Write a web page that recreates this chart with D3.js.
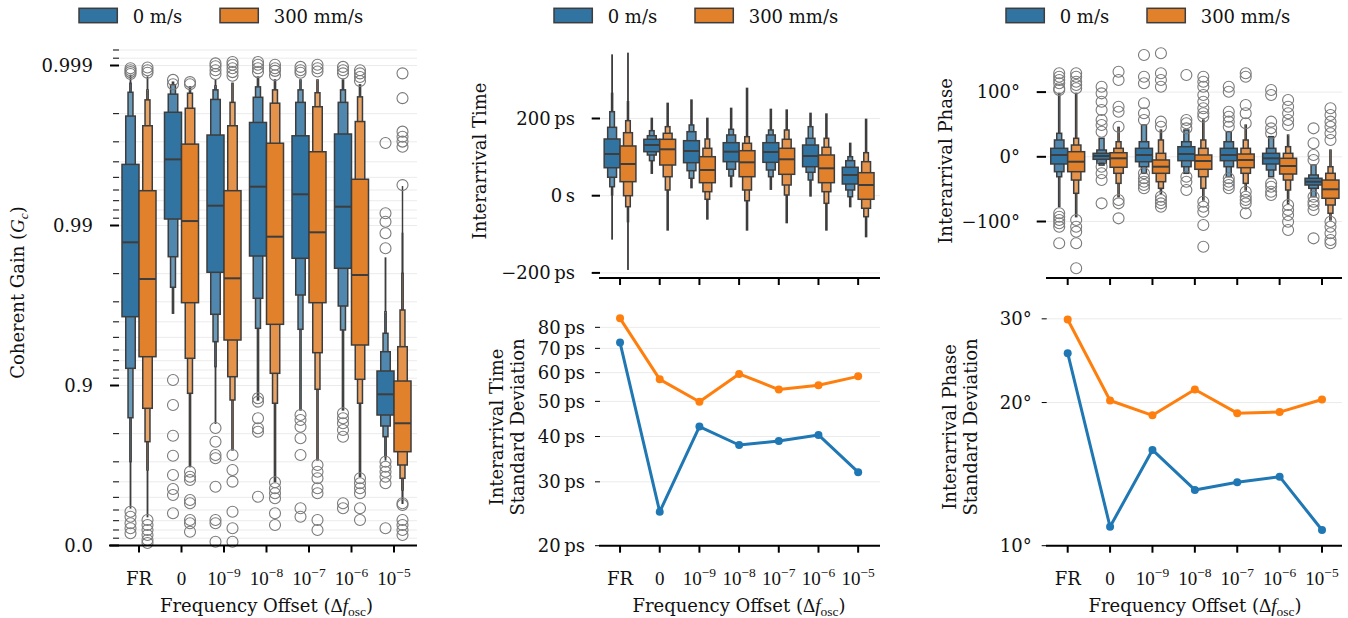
<!DOCTYPE html>
<html><head><meta charset="utf-8">
<script src="https://cdn.jsdelivr.net/npm/d3@7"></script>
<style>
body{margin:0;background:#fff}
svg text{font-family:"DejaVu Serif",serif;font-size:18px;fill:#111}
svg .math{font-family:"Liberation Serif",serif}
</style>
</head><body>
<svg id="c" width="1348" height="618"></svg>
<script>
// ---------------- DATA ----------------
const categories = ["FR","0","1e-9","1e-8","1e-7","1e-6","1e-5"];
const xTickBase = ["FR","0","10","10","10","10","10"];
const xTickExp  = ["","","\u22129","\u22128","\u22127","\u22126","\u22125"];
const series = ["0 m/s","300 mm/s"];

// Coherent gain letter-value boxes (levels from innermost outwards: [low, high])
const gainBoxes0 = [
 {median:.98726, levels:[[.96285,.99585],[.9219,.99793],[.8410,.99853],[.7006,.99871],[.4172,.99885]], outliers:[.99896,.99893,.99890,.99887,.3849,.3393,.2733,.2195,.1609]},
 {median:.99614, levels:[[.99089,.99804],[.98433,.99849],[.97567,.99868],[.96462,.99873]], outliers:[.99877,.99869,.90753,.8676,.7941,.7253,.6374,.5565,.5166,.3708]},
 {median:.99248, levels:[[.98039,.99728],[.96411,.99837],[.94677,.99858],[.92369,.99866],[.8278,.99877]], outliers:[.99903,.99899,.99893,.99887,.8157,.7755,.7281,.7149,.5710,.3072,.2733,.0532]},
 {median:.99428, levels:[[.98449,.99773],[.97149,.99842],[.95609,.99864],[.8768,.99882]], outliers:[.99905,.99901,.99896,.99890,.8798,.8738,.8397,.8149,.8056,.5045]},
 {median:.99362, levels:[[.98397,.99725],[.97281,.99830],[.95546,.99858],[.85775,.99877]], outliers:[.99898,.99893,.99889,.8471,.8357,.8191,.7862,.7281,.4145,.3393]},
 {median:.99237, levels:[[.98149,.99732],[.96815,.99830],[.95502,.99858],[.85775,.99877]], outliers:[.99898,.99893,.99888,.8508,.8397,.8278,.8103,.7911,.4553,.4145]},
 {median:.8865, levels:[[.8471,.91883],[.8209,.93849],[.7911,.95283],[.7214,.96542],[.7079,.98404]], outliers:[.99695,.99161,.99053,.98881,.98612,.7006,.6783,.6542,.6285,.5916,.2195]}
];
const gainBoxes300 = [
 {median:.97840, levels:[[.93393,.99394],[.86115,.99762],[.7755,.99836],[.6626,.99858],[.3393,.99882]], outliers:[.99897,.99893,.99889,.3066,.2553,.2002,.1400,.0761,.0353]},
 {median:.99062, levels:[[.96963,.99690],[.93239,.99815],[.8881,.99851],[.6783,.99864]], outliers:[.99873,.99869,.6542,.6285,.6104,.4804,.4553,.3072,.2733,.1802]},
 {median:.97862, levels:[[.94804,.99394],[.9119,.99762],[.8768,.99830],[.7471,.99871]], outliers:[.99905,.99901,.99896,.99890,.99884,.7281,.6626,.6010,.3849,.2195,.0532]},
 {median:.98825, levels:[[.95854,.99694],[.91609,.99828],[.8709,.99858],[.6010,.99877]], outliers:[.99901,.99896,.99892,.99885,.5980,.5609,.5283,.4930,.3708,.2553]},
 {median:.98897, levels:[[.96963,.99654],[.93763,.99819],[.8944,.99852],[.7079,.99877]], outliers:[.99901,.99896,.99891,.6861,.6542,.6198,.5609,.5283,.3072,.2000]},
 {median:.97961, levels:[[.94418,.99486],[.90853,.99776],[.8709,.99843],[.6285,.99868]], outliers:[.99893,.99888,.99882,.99875,.6198,.5916,.5609,.5283,.4145,.3072]},
 {median:.8278, levels:[[.7407,.90624],[.6861,.94278],[.6198,.96626],[.5502,.98011],[.4553,.98881],[.4553,.99428]], outliers:[.99888,.99840,.99741,.99721,.99701,.99678,.99441,.4553,.4418,.3072,.2553,.2000,.1400]}
];

// Interarrival time (ps)
const timeBoxes0 = [
 {median:108, levels:[[72.5,146.9],[47.7,177.2],[23.3,217.6],[1.8,265.3],[-112.2,364.5]], outliers:[]},
 {median:131.3, levels:[[114,146.1],[105.4,155.4],[90.7,168.4],[58,200.5]], outliers:[]},
 {median:115.8, levels:[[85.5,142.5],[64.8,165.8],[45.1,183.2],[20.7,247.9]], outliers:[]},
 {median:114, levels:[[88.1,137.3],[68.4,157.3],[51,172],[23.3,226.4]], outliers:[]},
 {median:113.2, levels:[[86.5,137.3],[66.6,157.3],[49.2,170.2],[16.6,223.8]], outliers:[]},
 {median:102.8, levels:[[75.1,131.3],[60.6,148.7],[40.7,178.8],[-0.8,213.5]], outliers:[]},
 {median:53.6, levels:[[30.3,73.6],[14.8,90.7],[-2.6,101],[-28.5,135.8]], outliers:[]}
];
const timeBoxes300 = [
 {median:82.1, levels:[[36.3,128.8],[0,163.2],[-28.5,194.3],[-67.4,243.5],[-190.7,368.9]], outliers:[]},
 {median:120.2, levels:[[79.5,146.1],[49.2,161.7],[14.8,178.8],[-88.9,239.4]], outliers:[]},
 {median:66.6, levels:[[33.7,101],[10.4,122.8],[-9.3,146.9],[-60.4,200.5]], outliers:[]},
 {median:86.5, levels:[[49.2,116.6],[14.8,135.8],[-13,152.8],[-88.9,278.2]], outliers:[]},
 {median:94.3, levels:[[55.4,122.8],[27.7,146.1],[1.8,170.2],[-69.9,222]], outliers:[]},
 {median:71, levels:[[33.7,105.4],[10.4,125.4],[-19.7,148.7],[-88.9,211.7]], outliers:[]},
 {median:27.7, levels:[[-9.3,59.6],[-32.6,88.1],[-54.4,111.4],[-106.2,197.9]], outliers:[]}
];

// Interarrival phase (degrees)
const phaseBoxes0 = [
 {median:2.8, levels:[[-11.1,13.1],[-23,26],[-30.8,36.3],[-77.1,98.1]], outliers:[129.1,123.8,118.7,113.6,105.9,103.2,-87.3,-92.6,-97.7,-102.8,-108,-133.7]},
 {median:1.2, levels:[[-3.9,5.4],[-10,10.5],[-12.8,28.6]], outliers:[108.3,98.1,85.2,72.3,56.9,49.1,38.8,-15.3,-25.5,-35.9,-71.9]},
 {median:2.8, levels:[[-7.6,13.1],[-15.3,23.3],[-25.5,49.1]], outliers:[157.3,123.8,113.6,82.7,67.2,56.9,-25.5,-33.2,-38.5,-43.6,-48.7]},
 {median:4.3, levels:[[-6,15.6],[-15.3,23.3],[-25.5,41.4]], outliers:[126.4,56.9,51.8,44,-30.8,-38.5,-51.3]},
 {median:2.8, levels:[[-6,13.1],[-15.3,23.3],[-30.8,38.8]], outliers:[108.3,100.6,69.7,62,54.3,46.5,-33.2,-38.5,-43.6,-48.7]},
 {median:-2.3, levels:[[-11.1,5.4],[-20.4,13.1],[-30.8,31.1]], outliers:[103.2,95.5,54.3,44,36.3,-41,-46.2,-53.9,-59]},
 {median:-38.5, levels:[[-43.6,-33.2],[-48.7,-28.1],[-61.7,-12.7]], outliers:[44,20.9,2.8,-4.9,-61.7,-69.4,-74.5,-82.2,-126]}
];
const phaseBoxes300 = [
 {median:-7.6, levels:[[-23,7.9],[-35.9,18.2],[-56.4,28.6],[-92.6,98.1]], outliers:[129.1,123.8,116.1,111,105.9,-97.7,-108,-115.8,-133.7,-172.3]},
 {median:-2.3, levels:[[-16.2,6.3],[-25.5,13.1],[-41,23.3],[-61.7,45.6]], outliers:[131.5,118.7,77.4,69.7,46.5,-66.8,-71.9,-95.1]},
 {median:-15.3, levels:[[-25.5,-4.9],[-38.5,5.4],[-48.7,26],[-56.4,41.4]], outliers:[160,129.1,118.7,108.3,54.3,46.5,-61.7,-66.8,-71.9,-77.1]},
 {median:-6.5, levels:[[-19.3,2.8],[-30.8,13.1],[-48.7,26],[-66.8,56.9]], outliers:[123.8,116.1,108.3,95.5,85.2,75,67.2,62,-69.4,-77.1,-84.9,-105.4,-139]},
 {median:-4.9, levels:[[-16.8,4.3],[-25.5,13.1],[-41,26],[-51.3,49.1]], outliers:[129.1,123.8,80.1,67.2,51.8,-53.9,-61.7,-66.8,-71.9,-87.3]},
 {median:-14.2, levels:[[-26.6,-2.3],[-35.9,5.4],[-51.3,15.6],[-71.9,33.7]], outliers:[87.8,77.4,67.2,56.9,49.1,-74.5,-82.2,-89.9,-100.3,-113.1]},
 {median:-50.2, levels:[[-64.1,-35.9],[-74.5,-25.5],[-87.3,-15.3],[-97.7,10.5]], outliers:[75,64.6,54.3,46.5,36.3,26,-100.3,-108,-118.2,-128.6,-133.7]}
];

// Standard deviations
const timeStd0   = [72.6, 24.8, 42.6, 37.9, 38.9, 40.4, 31.9];
const timeStd300 = [84.7, 57.5, 49.9, 59.5, 53.9, 55.4, 58.6];
const phaseStd0   = [25.4, 10.96, 15.9, 13.1, 13.6, 13.97, 10.79];
const phaseStd300 = [29.9, 20.2, 18.8, 21.3, 19.0, 19.1, 20.3];

// Tick values / labels
const gainTicks = [0, 0.9, 0.99, 0.999];
const gainTickLabels = ["0.0","0.9","0.99","0.999"];
const timeTicks = [-200, 0, 200];
const timeTickLabels = ["\u2212200\u2009ps","0\u2009s","200\u2009ps"];
const phaseTicks = [-100, 0, 100];
const phaseTickLabels = ["\u2212100\u00b0","0\u00b0","100\u00b0"];
const timeStdTicks = [20,30,40,50,60,70,80];
const timeStdTickLabels = ["20\u2009ps","30\u2009ps","40\u2009ps","50\u2009ps","60\u2009ps","70\u2009ps","80\u2009ps"];
const phaseStdTicks = [10,20,30];
const phaseStdTickLabels = ["10\u00b0","20\u00b0","30\u00b0"];

// ---------------- STYLE ----------------
const BOX_COLORS = ["#3274a1","#e1812c"];
const LINE_COLORS = ["#1f77b4","#ff7f0e"];
const EDGE = "#3d3d3d";
const GRID = "#ebebeb";
const LEVEL_W = [1, 0.56, 0.29, 0.08, 0.03, 0.01];

const svg = d3.select("#c");
const gGrid = svg.append("g");
const gMarks = svg.append("g");
const gAxes = svg.append("g");

// ---------------- HELPERS ----------------
function gridLines(vals, y, x1, x2) {
  gGrid.selectAll(null).data(vals).enter().append("line")
    .attr("x1", x1).attr("x2", x2).attr("y1", d => y(d)).attr("y2", d => y(d))
    .attr("stroke", GRID).attr("stroke-width", 1);
}
function yTicks(vals, labels, y, tx1, tx2, lx, w) {
  vals.forEach((v, i) => {
    gAxes.append("line").attr("x1", tx1).attr("x2", tx2).attr("y1", y(v)).attr("y2", y(v))
      .attr("stroke", "#000").attr("stroke-width", w);
    if (labels) gAxes.append("text").attr("x", lx).attr("y", y(v)).attr("dy", "0.35em")
      .attr("text-anchor", "end").text(labels[i]);
  });
}
function xAxis(x, x1, x2, y0, labels) {
  gAxes.append("line").attr("x1", x1).attr("x2", x2).attr("y1", y0).attr("y2", y0)
    .attr("stroke", "#000").attr("stroke-width", 2);
  categories.forEach((c, i) => {
    const cx = x(c) + x.bandwidth() / 2;
    gAxes.append("line").attr("x1", cx).attr("x2", cx).attr("y1", y0).attr("y2", y0 + 7)
      .attr("stroke", "#000").attr("stroke-width", 2);
    if (labels) {
      const t = gAxes.append("text").attr("x", cx).attr("y", 585).attr("text-anchor", "middle");
      if (i === 0) t.text(xTickBase[i]);
      else {
        t.append("tspan").attr("class", "math").attr("font-size", 19).text(xTickBase[i]);
        if (xTickExp[i]) t.append("tspan").attr("class", "math").attr("font-size", 13.5).attr("dy", -8).text(xTickExp[i]);
      }
    }
  });
}
function xLabel(cx) {
  const t = gAxes.append("text").attr("x", cx).attr("y", 612).attr("text-anchor", "middle");
  t.append("tspan").text("Frequency Offset (");
  t.append("tspan").attr("class", "math").attr("font-size", 19).text("\u0394");
  t.append("tspan").attr("class", "math").attr("font-size", 19).attr("font-style", "italic").text("f");
  t.append("tspan").attr("class", "math").attr("font-size", 13.5).attr("dy", 4).text("osc");
  t.append("tspan").attr("dy", -4).text(")");
}
function yLabel(x, y, lines) {
  const t = gAxes.append("text").attr("transform", `translate(${x},${y}) rotate(-90)`).attr("text-anchor", "middle");
  lines.forEach((l, i) => t.append("tspan").attr("x", 0).attr("dy", i ? 20.5 : 0).text(l));
  return t;
}
function boxen(boxes, x, y, si) {
  const bw = x.bandwidth() * 0.8 / 2;
  boxes.forEach((b, ci) => {
    const xc = x(categories[ci]) + x.bandwidth() / 2 + (si === 0 ? -bw / 2 : bw / 2);
    const g = gMarks.append("g");
    for (let k = b.levels.length - 1; k >= 0; k--) {
      const [lo, hi] = b.levels[k];
      const w = bw * LEVEL_W[k];
      g.append("rect").attr("x", xc - w / 2).attr("width", w)
        .attr("y", y(hi)).attr("height", Math.max(0, y(lo) - y(hi)))
        .attr("fill", d3.interpolateRgb(BOX_COLORS[si], "#fff")(Math.min(k, 3) * 0.14))
        .attr("stroke", EDGE).attr("stroke-width", k >= 3 ? 1.3 : 1.5);
    }
    g.append("line").attr("x1", xc - bw / 2).attr("x2", xc + bw / 2)
      .attr("y1", y(b.median)).attr("y2", y(b.median)).attr("stroke", EDGE).attr("stroke-width", 2);
    g.selectAll("circle").data(b.outliers).enter().append("circle")
      .attr("cx", xc).attr("cy", d => y(d)).attr("r", 5.5)
      .attr("fill", "none").attr("stroke", "#7a7a7a").attr("stroke-width", 1.1);
  });
}
function lines(vals, x, y, si) {
  const pts = vals.map((v, i) => [x(categories[i]) + x.bandwidth() / 2, y(v)]);
  gMarks.append("path").attr("d", d3.line()(pts)).attr("fill", "none")
    .attr("stroke", LINE_COLORS[si]).attr("stroke-width", 3).attr("stroke-linejoin", "round");
  gMarks.selectAll(null).data(pts).enter().append("circle")
    .attr("cx", d => d[0]).attr("cy", d => d[1]).attr("r", 4).attr("fill", LINE_COLORS[si]);
}
function legend(x0) {
  series.forEach((s, i) => {
    const x = x0 + i * 141;
    gAxes.append("rect").attr("x", x).attr("y", 8.3).attr("width", 38.3).attr("height", 14.4)
      .attr("fill", BOX_COLORS[i]).attr("stroke", EDGE).attr("stroke-width", 1.5);
    gAxes.append("text").attr("x", x + 53.7).attr("y", 22.5).text(s);
  });
}

// ---------------- LEFT: COHERENT GAIN ----------------
{
  const x = d3.scaleBand().domain(categories).range([117.75, 415.25]);
  const nines = d3.scaleLinear().domain([0, 3.12]).range([545.5, 46.3]);
  const y = g => nines(-Math.log10(1 - g));
  const minor = [];
  for (let d = 0; d < 4; d++) for (let m = 2; m <= 9; m++) {
    const loss = m * Math.pow(10, -(d + 1));
    if (-Math.log10(loss) <= 3.12) minor.push(1 - loss);
  }
  gridLines(gainTicks.concat(minor), y, 119, 417);
  boxen(gainBoxes0, x, y, 0);
  boxen(gainBoxes300, x, y, 1);
  yTicks(minor, null, y, 113, 119, 0, 1);
  yTicks(gainTicks, gainTickLabels, y, 110, 119, 93, 2);
  xAxis(x, 109, 417, 545.5, true);
  xLabel(266.5);
  const t = gAxes.append("text").attr("transform", "translate(23.5,292.5) rotate(-90)").attr("text-anchor", "middle");
  t.append("tspan").text("Coherent Gain (");
  t.append("tspan").attr("class", "math").attr("font-size", 19).attr("font-style", "italic").text("G");
  t.append("tspan").attr("class", "math").attr("font-style", "italic").attr("font-size", 13.5).attr("dy", 4).text("c");
  t.append("tspan").attr("dy", -4).text(")");
  legend(79);
}

// ---------------- MIDDLE TOP: INTERARRIVAL TIME ----------------
const xM = d3.scaleBand().domain(categories).range([600.2, 878]);
{
  const y = d3.scaleLinear().domain([-213.2, 385.2]).range([278, 47]);
  gridLines(timeTicks, y, 600, 880);
  boxen(timeBoxes0, xM, y, 0);
  boxen(timeBoxes300, xM, y, 1);
  yTicks(timeTicks, timeTickLabels, y, 591.7, 600, 575, 2);
  xAxis(xM, 599, 880, 278, false);
  yLabel(486, 161, ["Interarrival Time"]);
  legend(554);
}
// ---------------- MIDDLE BOTTOM: TIME STD ----------------
{
  const y = d3.scaleLog().domain([20, 91]).range([545.7, 545.7 - 362.7 * Math.log10(91 / 20)]);
  gridLines(timeStdTicks.slice(1), y, 600, 880);
  lines(timeStd0, xM, y, 0);
  lines(timeStd300, xM, y, 1);
  yTicks(timeStdTicks, timeStdTickLabels, y, 595, 600, 585, 1);
  xAxis(xM, 599, 880, 545.7, true);
  xLabel(739);
  yLabel(503, 427, ["Interarrival Time", "Standard Deviation"]);
}

// ---------------- RIGHT TOP: INTERARRIVAL PHASE ----------------
const xR = d3.scaleBand().domain(categories).range([1046.5, 1343.2]);
{
  const y = d3.scaleLinear().domain([-187.3, 169.7]).range([278, 47]);
  gridLines(phaseTicks, y, 1046, 1342);
  boxen(phaseBoxes0, xR, y, 0);
  boxen(phaseBoxes300, xR, y, 1);
  yTicks(phaseTicks, phaseTickLabels, y, 1036.7, 1046, 1020, 2);
  xAxis(xR, 1046, 1342, 278, false);
  yLabel(951.5, 161, ["Interarrival Phase"]);
  legend(1006);
}
// ---------------- RIGHT BOTTOM: PHASE STD ----------------
{
  const y = d3.scaleLog().domain([10, 31.6]).range([545.7, 545.7 - 475.5 * Math.log10(3.16)]);
  gridLines(phaseStdTicks.slice(1), y, 1046, 1342);
  lines(phaseStd0, xR, y, 0);
  lines(phaseStd300, xR, y, 1);
  yTicks(phaseStdTicks, phaseStdTickLabels, y, 1041.7, 1046.7, 1031.7, 1);
  xAxis(xR, 1046, 1342, 545.7, true);
  xLabel(1195);
  yLabel(956, 427, ["Interarrival Phase", "Standard Deviation"]);
}
</script>
</body></html>
